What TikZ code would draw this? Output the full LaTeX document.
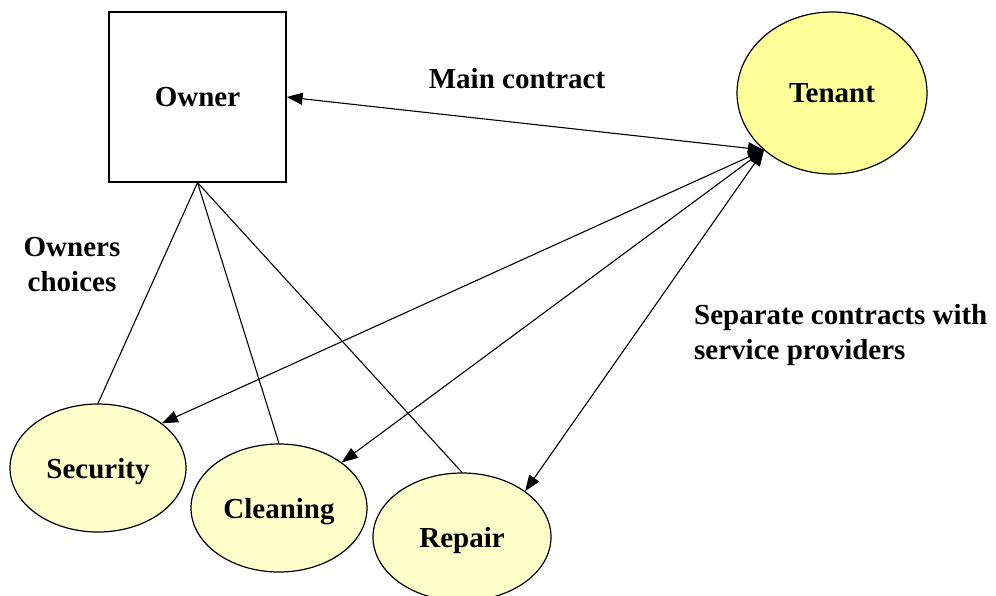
\documentclass[tikz,border=0pt]{standalone}
\usepackage{fontspec}
\setmainfont{Liberation Serif}
\usetikzlibrary{arrows.meta,shapes.geometric}
\definecolor{tenantfill}{HTML}{FFFF99}
\definecolor{servicefill}{HTML}{FFFFCC}
\tikzset{
  every node/.style={font=\fontsize{29}{35}\selectfont\bfseries},
  party/.style={draw, line width=1.2pt, inner sep=0pt},
  oval/.style={party, ellipse, minimum width=176pt, minimum height=128pt, fill=servicefill, text depth=0pt},
  link/.style={line width=1.1pt},
  contract/.style={link, {Triangle[length=16pt,width=12pt]}-{Triangle[length=16pt,width=12pt]}},
  caption/.style={inner sep=0pt}
}
\begin{document}
\begin{tikzpicture}[x=1pt,y=-1pt]
  \useasboundingbox (0,0) rectangle (996,595);
  \clip (0,0) rectangle (996,595);

  % parties
  \node[party, rectangle, minimum width=177pt, minimum height=170pt] (owner) at (197.5,97) {\raisebox{-2pt}{Owner}};
  \node[party, ellipse, minimum width=190pt, minimum height=162pt, fill=tenantfill] (tenant) at (832,93) {Tenant};
  \node[oval] (security) at (98,468) {Security};
  \node[oval] (cleaning) at (279,508) {Cleaning};
  \node[oval, minimum width=178pt] (repair) at (462,537) {Repair};

  % common end of the contract arrows on the tenant
  \coordinate (hub) at (764,150);

  % owner's choice of service providers
  \draw[link] (owner.south) -- (security.north);
  \draw[link] (owner.south) -- (cleaning.north);
  \draw[link] (owner.south) -- (repair.north);

  % contracts
  \draw[contract] (owner.east) -- (hub);
  \draw[contract] (security.35) -- (hub);
  \draw[contract] (cleaning.36) -- (hub);
  \draw[contract] (repair.36) -- (hub);

  % labels
  \node[caption] (lblmain) at (517,79) {Main contract};
  \node[caption, align=center] (lblchoice) at (72,265) {Owners\\choices};
  \node[caption, align=left, anchor=west] (lblsep) at (694,335) {Separate contracts with\\service providers};
\end{tikzpicture}
\end{document}
